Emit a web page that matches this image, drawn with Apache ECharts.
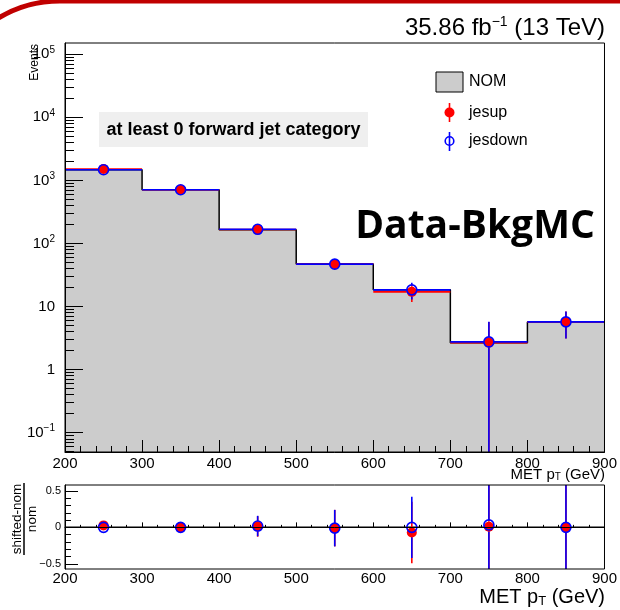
<!DOCTYPE html>
<html>
<head>
<meta charset="utf-8">
<script src="https://cdn.jsdelivr.net/npm/echarts@6/dist/echarts.min.js"></script>
<style>
  html, body { margin: 0; padding: 0; background: #fff; }
  #chart { width: 620px; height: 610px; }
</style>
</head>
<body>
<div id="chart"></div>
<script>
// MET pT binning (GeV) and event yields per bin
const binEdges = [200, 300, 400, 500, 600, 700, 800, 900];
const nom      = [1480, 711, 165, 47.5, 18.4, 2.66, 5.71];
const jesUp    = [1520, 711, 167, 47.0, 17.1, 2.68, 5.71];
const jesDown  = [1480, 711, 168, 47.0, 18.4, 2.75, 5.71];
// statistical uncertainty on the shifted histograms
const jesUpErr   = [38, 27, 16, 8.0, 5.3, 3.0, 2.6];
const jesDownErr = [38, 27, 16, 8.0, 5.5, 3.0, 2.6];
// uncertainty on (shifted - nom) / nom
const ratioUpErr   = [0.04, 0.05, 0.14, 0.25, 0.42, 1.6, 0.65];
const ratioDownErr = [0.04, 0.05, 0.14, 0.25, 0.42, 1.6, 0.65];

// axis tick values
const yDecades = [0.1, 1, 10, 100, 1000, 10000, 100000];
const ratioMajor = [-0.5, 0, 0.5];
const ratioMinor = [-0.4, -0.3, -0.2, -0.1, 0.1, 0.2, 0.3, 0.4];

const yMin = 0.0494, yMax = 151000;
const rMin = -0.57, rMax = 0.58;

const yMinor = [];
for (let d = -2; d <= 4; d++) {
  for (let k = 2; k <= 9; k++) {
    const v = k * Math.pow(10, d);
    if (v > yMin && v < yMax) yMinor.push(+v.toPrecision(3));
  }
}

const FONT = '"Liberation Sans", Arial, sans-serif';
const RED = '#ff0000', BLUE = '#0000ff';
const MARK_R = 5;
const AXIS_Z = 4;

const nBins = nom.length;
const centers = nom.map((_, i) => (binEdges[i] + binEdges[i + 1]) / 2);

const stepData = binEdges.map((x, i) => [x, nom[Math.min(i, nBins - 1)]]);
const barRows = (vals, errs) => vals.map((v, i) => [binEdges[i], binEdges[i + 1], v, errs[i]]);
const ratioVals = vals => vals.map((v, i) => (v - nom[i]) / nom[i]);
const ratioRows = (vals, errs) => ratioVals(vals).map((r, i) => [binEdges[i], binEdges[i + 1], r, errs[i]]);

// error bars (and optional bin-width bars) that leave a gap where the marker sits
function errorRenderer(color, withX, floor) {
  return function (params, api) {
    const lo = api.value(0), hi = api.value(1), v = api.value(2), e = api.value(3);
    const xc = (lo + hi) / 2;
    const c = api.coord([xc, v]);
    const style = { stroke: color, lineWidth: 1.6 };
    const kids = [];
    const seg = (x1, y1, x2, y2) => kids.push({ type: 'line', shape: { x1, y1, x2, y2 }, style });
    if (withX) {
      const pl = api.coord([lo, v]), ph = api.coord([hi, v]);
      seg(pl[0], c[1], c[0] - MARK_R, c[1]);
      seg(c[0] + MARK_R, c[1], ph[0], c[1]);
    }
    const top = api.coord([xc, v + e])[1];
    const lowVal = v - e;
    const bottom = (floor !== null && lowVal <= floor) ? api.coord([xc, floor])[1] + 50 : api.coord([xc, lowVal])[1];
    if (top < c[1] - MARK_R) seg(c[0], top, c[0], c[1] - MARK_R);
    if (bottom > c[1] + MARK_R) seg(c[0], c[1] + MARK_R, c[0], bottom);
    return { type: 'group', children: kids };
  };
}

function supLabel(v) {
  const e = Math.round(Math.log10(v));
  if (e === 0) return '1';
  if (e === 1) return '10';
  return '10{sup|' + (e < 0 ? '\u2212' + (-e) : e) + '}';
}

const chart = echarts.init(document.getElementById('chart'), null, { renderer: 'canvas' });

const option = {
  animation: false,
  backgroundColor: '#fff',
  textStyle: { fontFamily: FONT },
  grid: [
    { left: 65, right: 15, top: 43, height: 409, show: true, z: AXIS_Z, borderColor: '#000', borderWidth: 1, backgroundColor: 'transparent' },
    { left: 65, right: 15, top: 485, height: 84, show: true, z: AXIS_Z, borderColor: '#000', borderWidth: 1, backgroundColor: 'transparent' }
  ],
  xAxis: [
    {
      type: 'value', gridIndex: 0, min: 200, max: 900, interval: 100, z: AXIS_Z,
      axisLine: { show: true, lineStyle: { color: '#000', width: 1 } },
      axisTick: { show: true, inside: true, length: 12, lineStyle: { color: '#000', width: 1 } },
      minorTick: { show: true, splitNumber: 5, length: 6, lineStyle: { color: '#000', width: 1 } },
      axisLabel: { show: true, color: '#000', fontSize: 15, margin: 4, fontFamily: FONT, showMinLabel: true, showMaxLabel: true },
      splitLine: { show: false }
    },
    {
      type: 'value', gridIndex: 1, min: 200, max: 900, interval: 100, z: AXIS_Z,
      axisLine: { show: true, lineStyle: { color: '#000', width: 1 } },
      axisTick: { show: true, inside: true, length: 5, lineStyle: { color: '#000', width: 1 } },
      minorTick: { show: true, splitNumber: 5, length: 2.5, lineStyle: { color: '#000', width: 1 } },
      axisLabel: { show: true, color: '#000', fontSize: 15, margin: 2, fontFamily: FONT, showMinLabel: true, showMaxLabel: true },
      splitLine: { show: false }
    }
  ],
  yAxis: [
    {
      type: 'log', logBase: 10, gridIndex: 0, min: yMin, max: yMax, z: AXIS_Z,
      axisLine: { show: true, lineStyle: { color: '#000', width: 1 } },
      axisTick: { show: true, inside: true, length: 18, customValues: yDecades, lineStyle: { color: '#000', width: 1 } },
      axisLabel: {
        show: true, color: '#000', fontSize: 15, margin: 10, fontFamily: FONT,
        customValues: yDecades,
        formatter: supLabel,
        rich: { sup: { fontSize: 10, verticalAlign: 'top', padding: [0, 0, 8, 0], fontFamily: FONT, color: '#000' } }
      },
      splitLine: { show: false }
    },
    {
      type: 'log', logBase: 10, gridIndex: 0, min: yMin, max: yMax, position: 'left', z: AXIS_Z,
      axisLine: { show: false },
      axisTick: { show: true, inside: true, length: 9, customValues: yMinor, lineStyle: { color: '#000', width: 1 } },
      axisLabel: { show: false },
      splitLine: { show: false }
    },
    {
      type: 'value', gridIndex: 1, min: rMin, max: rMax, z: AXIS_Z,
      axisLine: { show: true, lineStyle: { color: '#000', width: 1 } },
      axisTick: { show: true, inside: true, length: 13, customValues: ratioMajor, lineStyle: { color: '#000', width: 1 } },
      axisLabel: {
        show: true, color: '#000', fontSize: 11, margin: 4, fontFamily: FONT,
        customValues: ratioMajor,
        formatter: v => (v < 0 ? '\u2212' + (-v) : String(v))
      },
      splitLine: { show: false }
    },
    {
      type: 'value', gridIndex: 1, min: rMin, max: rMax, position: 'left', z: AXIS_Z,
      axisLine: { show: false },
      axisTick: { show: true, inside: true, length: 6, customValues: ratioMinor, lineStyle: { color: '#000', width: 1 } },
      axisLabel: { show: false },
      splitLine: { show: false }
    }
  ],
  series: [
    {
      name: 'NOM', type: 'line', xAxisIndex: 0, yAxisIndex: 0,
      data: stepData, step: 'end', symbol: 'none',
      lineStyle: { color: '#000', width: 1.5 },
      areaStyle: { color: '#cccccc', opacity: 1, origin: 'start' },
      z: 1
    },
    {
      name: 'jesup', type: 'custom', xAxisIndex: 0, yAxisIndex: 0, clip: true,
      data: barRows(jesUp, jesUpErr), encode: { x: [0, 1], y: 2 },
      renderItem: errorRenderer(RED, true, yMin), z: 2
    },
    {
      name: 'jesup', type: 'scatter', xAxisIndex: 0, yAxisIndex: 0,
      data: centers.map((c, i) => [c, jesUp[i]]),
      symbol: 'circle', symbolSize: 10, itemStyle: { color: RED, opacity: 1 }, z: 2
    },
    {
      name: 'jesdown', type: 'custom', xAxisIndex: 0, yAxisIndex: 0, clip: true,
      data: barRows(jesDown, jesDownErr), encode: { x: [0, 1], y: 2 },
      renderItem: errorRenderer(BLUE, true, yMin), z: 2
    },
    {
      name: 'jesdown', type: 'scatter', xAxisIndex: 0, yAxisIndex: 0,
      data: centers.map((c, i) => [c, jesDown[i]]),
      symbol: 'circle', symbolSize: 10,
      itemStyle: { color: 'rgba(0,0,0,0)', borderColor: BLUE, borderWidth: 1.6, opacity: 1 }, z: 2
    },
    {
      name: 'zero', type: 'line', xAxisIndex: 1, yAxisIndex: 2,
      data: [[200, 0], [900, 0]], symbol: 'none',
      lineStyle: { color: '#000', width: 1.5 }, z: 1
    },
    {
      name: 'jesup ratio', type: 'custom', xAxisIndex: 1, yAxisIndex: 2, clip: true,
      data: ratioRows(jesUp, ratioUpErr), encode: { x: [0, 1], y: 2 },
      renderItem: errorRenderer(RED, false, null), z: 2
    },
    {
      name: 'jesup ratio pts', type: 'scatter', xAxisIndex: 1, yAxisIndex: 2,
      data: ratioVals(jesUp).map((r, i) => [centers[i], r]),
      symbol: 'circle', symbolSize: 10, itemStyle: { color: RED, opacity: 1 }, z: 2
    },
    {
      name: 'jesdown ratio', type: 'custom', xAxisIndex: 1, yAxisIndex: 2, clip: true,
      data: ratioRows(jesDown, ratioDownErr), encode: { x: [0, 1], y: 2 },
      renderItem: errorRenderer(BLUE, false, null), z: 2
    },
    {
      name: 'jesdown ratio pts', type: 'scatter', xAxisIndex: 1, yAxisIndex: 2,
      data: ratioVals(jesDown).map((r, i) => [centers[i], r]),
      symbol: 'circle', symbolSize: 10,
      itemStyle: { color: 'rgba(0,0,0,0)', borderColor: BLUE, borderWidth: 1.6, opacity: 1 }, z: 2
    }
  ],
  graphic: [
    // slide frame accent
    {
      type: 'arc', z: 10,
      shape: { cx: 60, cy: 121, r: 120, startAngle: -123 * Math.PI / 180, endAngle: -90 * Math.PI / 180, clockwise: true },
      style: { fill: null, stroke: '#c00000', lineWidth: 5 }
    },
    {
      type: 'line', z: 10,
      shape: { x1: 60, y1: 1, x2: 622, y2: 1 },
      style: { stroke: '#c00000', lineWidth: 5 }
    },
    {
      type: 'text', right: 15, top: 15, z: 10,
      style: {
        text: '{a|35.86 fb}{s|\u22121}{a| (13 TeV)}',
        rich: {
          a: { fontSize: 24, fontFamily: FONT, fill: '#000' },
          s: { fontSize: 14, fontFamily: FONT, fill: '#000', verticalAlign: 'top', padding: [0, 0, 12, 0] }
        }
      }
    },
    {
      type: 'text', x: 35, y: 44, rotation: Math.PI / 2, z: 10,
      style: { text: 'Events', fontSize: 12, fontFamily: FONT, fill: '#000', align: 'right', verticalAlign: 'middle' }
    },
    // category box
    {
      type: 'rect', shape: { x: 99, y: 112, width: 269, height: 35 }, z: 9,
      style: { fill: '#efefef', stroke: null }
    },
    {
      type: 'text', x: 233.5, y: 130, z: 10,
      style: { text: 'at least 0 forward jet category', fontSize: 18, fontWeight: 'bold', fontFamily: FONT, fill: '#000', align: 'center', verticalAlign: 'middle' }
    },
    // legend
    {
      type: 'rect', shape: { x: 436, y: 72, width: 27, height: 20 }, z: 10,
      style: { fill: '#cccccc', stroke: '#000', lineWidth: 1 }
    },
    {
      type: 'text', x: 469, y: 82, z: 10,
      style: { text: 'NOM', fontSize: 16, fontFamily: FONT, fill: '#000', verticalAlign: 'middle' }
    },
    {
      type: 'line', shape: { x1: 449.5, y1: 103, x2: 449.5, y2: 122 }, z: 10,
      style: { stroke: RED, lineWidth: 1.6 }
    },
    {
      type: 'circle', shape: { cx: 449.5, cy: 112.5, r: 5 }, z: 10,
      style: { fill: RED }
    },
    {
      type: 'text', x: 469, y: 113, z: 10,
      style: { text: 'jesup', fontSize: 16, fontFamily: FONT, fill: '#000', verticalAlign: 'middle' }
    },
    {
      type: 'line', shape: { x1: 449.5, y1: 132, x2: 449.5, y2: 151 }, z: 10,
      style: { stroke: BLUE, lineWidth: 1.6 }
    },
    {
      type: 'circle', shape: { cx: 449.5, cy: 141, r: 4.3 }, z: 10,
      style: { fill: '#fff', stroke: BLUE, lineWidth: 1.6 }
    },
    {
      type: 'line', shape: { x1: 449.5, y1: 137, x2: 449.5, y2: 145 }, z: 11,
      style: { stroke: BLUE, lineWidth: 1.6 }
    },
    {
      type: 'text', x: 469, y: 141, z: 10,
      style: { text: 'jesdown', fontSize: 16, fontFamily: FONT, fill: '#000', verticalAlign: 'middle' }
    },
    {
      type: 'text', x: 475, y: 227, z: 10,
      style: { text: 'Data-BkgMC', fontSize: 39, fontWeight: 'bold', fontFamily: '"Open Sans", Lato, sans-serif', fill: '#000', align: 'center', verticalAlign: 'middle' }
    },
    // x-axis titles
    {
      type: 'text', right: 15, top: 467, z: 10,
      style: {
        text: '{a|MET p}{b|T}{a| (GeV)}',
        rich: {
          a: { fontSize: 15, fontFamily: FONT, fill: '#000' },
          b: { fontSize: 10, fontFamily: FONT, fill: '#000', verticalAlign: 'bottom', padding: [6, 0, 0, 0] }
        }
      }
    },
    {
      type: 'text', right: 15, top: 587, z: 10,
      style: {
        text: '{a|MET p}{b|T}{a| (GeV)}',
        rich: {
          a: { fontSize: 20, fontFamily: FONT, fill: '#000' },
          b: { fontSize: 13, fontFamily: FONT, fill: '#000', verticalAlign: 'bottom', padding: [8, 0, 0, 0] }
        }
      }
    },
    // ratio-panel y title
    {
      type: 'group', x: 24, y: 519, rotation: Math.PI / 2, z: 10,
      children: [
        { type: 'text', x: 0, y: -7, style: { text: 'shifted-nom', fontSize: 13.5, fontFamily: FONT, fill: '#000', align: 'center', verticalAlign: 'middle' } },
        { type: 'line', shape: { x1: -36, y1: 0, x2: 36, y2: 0 }, style: { stroke: '#000', lineWidth: 1.5 } },
        { type: 'text', x: 0, y: 8, style: { text: 'nom', fontSize: 13.5, fontFamily: FONT, fill: '#000', align: 'center', verticalAlign: 'middle' } }
      ]
    }
  ]
};

chart.setOption(option);
</script>
</body>
</html>
